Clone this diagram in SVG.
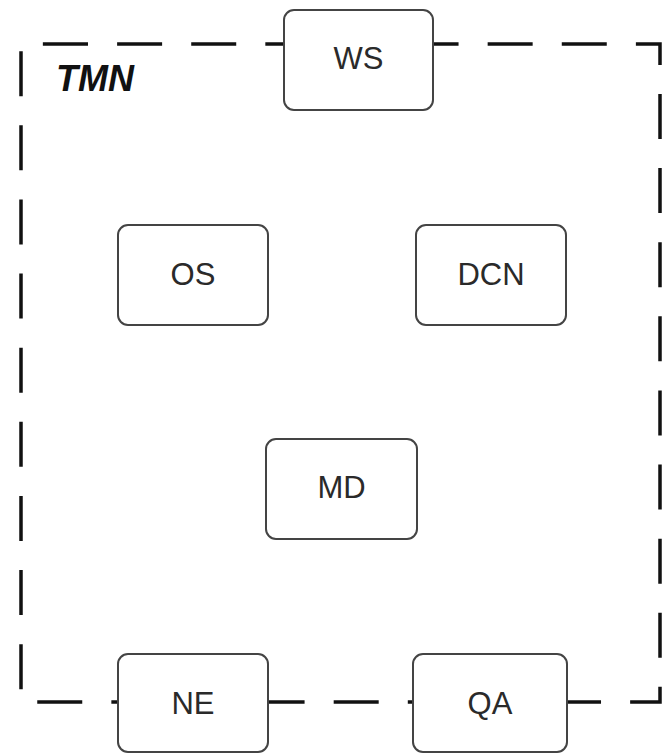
<svg xmlns="http://www.w3.org/2000/svg" width="662" height="754" viewBox="0 0 662 754">
  <style>
    .boundary { fill: none; stroke: #111; stroke-width: 3.5; stroke-dasharray: 45 29.11; stroke-linecap: butt; }
    .box { fill: #fff; stroke: #444; stroke-width: 2; }
    .label { font-family: "Liberation Sans", Arial, sans-serif; font-size: 31px; fill: #2a2a2a; text-anchor: middle; }
    .title { font-family: "Liberation Sans", Arial, sans-serif; font-size: 36px; font-weight: bold; font-style: italic; fill: #111; }
  </style>
  <rect width="662" height="754" fill="#fff"/>
  <g id="tmn">
    <path class="boundary" d="M43,44 H660 V702 H21 V44 Z"/>
    <text class="title" x="56" y="91">TMN</text>
  </g>
  <g id="connectors"/>
  <g id="ws">
    <rect class="box" x="284" y="10" width="149" height="100" rx="10"/>
    <text class="label" x="358.5" y="69">WS</text>
  </g>
  <g id="os">
    <rect class="box" x="118" y="225" width="150" height="100" rx="10"/>
    <text class="label" x="193" y="285">OS</text>
  </g>
  <g id="dcn">
    <rect class="box" x="416" y="225" width="150" height="100" rx="10"/>
    <text class="label" x="491" y="285">DCN</text>
  </g>
  <g id="md">
    <rect class="box" x="266" y="439" width="151" height="100" rx="10"/>
    <text class="label" x="341.5" y="498">MD</text>
  </g>
  <g id="ne">
    <rect class="box" x="118" y="654" width="150" height="98" rx="10"/>
    <text class="label" x="193" y="714">NE</text>
  </g>
  <g id="qa">
    <rect class="box" x="413" y="654" width="154" height="98" rx="10"/>
    <text class="label" x="490" y="714">QA</text>
  </g>
</svg>
